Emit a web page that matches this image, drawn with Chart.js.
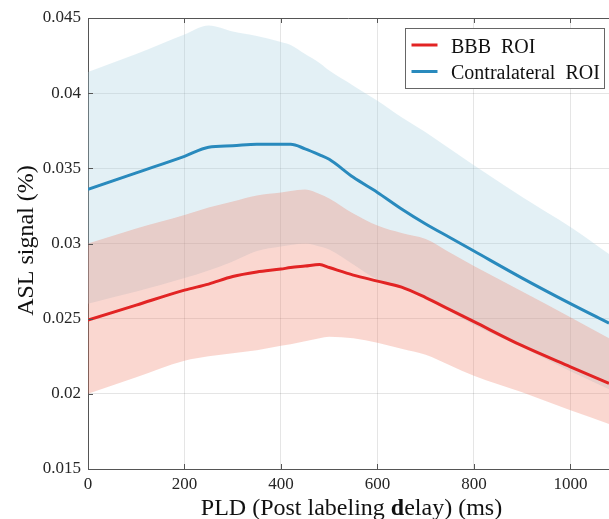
<!DOCTYPE html>
<html>
<head>
<meta charset="utf-8">
<script src="https://cdn.jsdelivr.net/npm/chart.js@4.4.0/dist/chart.umd.min.js"></script>
<style>
  html, body { margin: 0; padding: 0; background: #fff; }
  #wrap { width: 609px; height: 519px; }
</style>
</head>
<body>
<div id="wrap"><canvas id="aslChart" width="609" height="519"></canvas></div>
<script>
// PLD sample points (ms)
const pld = [0, 100, 200, 250, 300, 350, 400, 420, 450, 480, 500, 550, 600, 650, 700, 750, 800, 900, 1000, 1080];

// BBB ROI: mean and band
const bbbMean  = [0.0249, 0.0259, 0.0269, 0.0273, 0.0278, 0.0281, 0.0283, 0.0284, 0.0285, 0.0286, 0.0284, 0.0279, 0.0275, 0.0271, 0.0264, 0.0256, 0.0248, 0.0232, 0.0218, 0.0207];
const bbbUpper = [0.0300, 0.0310, 0.0319, 0.0324, 0.0328, 0.0332, 0.0334, 0.0335, 0.0336, 0.0333, 0.0330, 0.0320, 0.0312, 0.0307, 0.0303, 0.0294, 0.0285, 0.0268, 0.0251, 0.0237];
const bbbLower = [0.0200, 0.0211, 0.0222, 0.0225, 0.0227, 0.0229, 0.0232, 0.0233, 0.0235, 0.0237, 0.0238, 0.0237, 0.0234, 0.0230, 0.0226, 0.0219, 0.0212, 0.0201, 0.0189, 0.0180];

// Contralateral ROI: mean and band
const contraMean  = [0.0336, 0.0347, 0.0358, 0.0364, 0.0365, 0.0366, 0.0366, 0.0366, 0.0363, 0.0359, 0.0356, 0.0344, 0.0334, 0.0323, 0.0313, 0.0304, 0.0295, 0.0277, 0.0260, 0.0247];
const contraUpper = [0.0414, 0.0426, 0.0439, 0.0445, 0.0441, 0.0438, 0.0434, 0.0432, 0.0426, 0.0420, 0.0415, 0.0405, 0.0395, 0.0384, 0.0374, 0.0363, 0.0352, 0.0331, 0.0311, 0.0293];
const contraLower = [0.0260, 0.0268, 0.0277, 0.0282, 0.0288, 0.0295, 0.0298, 0.0299, 0.0300, 0.0298, 0.0296, 0.0286, 0.0276, 0.0270, 0.0264, 0.0255, 0.0246, 0.0231, 0.0215, 0.0203];

// axes
const xTicks = [0, 200, 400, 600, 800, 1000];
const yTicks = [0.015, 0.02, 0.025, 0.03, 0.035, 0.04, 0.045];
const yTickLabels = ['0.015', '0.02', '0.025', '0.03', '0.035', '0.04', '0.045'];
const legendLabels = ['BBB  ROI', 'Contralateral  ROI'];

const RED = 'rgb(226,36,36)';
const BLUE = 'rgb(41,138,189)';
const AXIS = '#555555';

function pts(ys) {
    return pld.map((x, i) => ({ x: x, y: ys[i] }));
}

function band(ys, fill, color) {
    return {
        data: pts(ys),
        borderWidth: 0,
        borderColor: 'rgba(0,0,0,0)',
        pointRadius: 0,
        fill: fill,
        backgroundColor: color,
        cubicInterpolationMode: 'monotone'
    };
}

function meanLine(ys, color) {
    return {
        data: pts(ys),
        borderColor: color,
        borderWidth: 3,
        pointRadius: 0,
        fill: false,
        cubicInterpolationMode: 'monotone'
    };
}

// frame, inward ticks, axis titles and legend
const decorPlugin = {
    id: 'decor',
    afterDraw(chart) {
        const ctx = chart.ctx;
        const a = chart.chartArea;
        const xs = chart.scales.x, ys = chart.scales.y;
        ctx.save();

        // top border + inward ticks
        ctx.strokeStyle = AXIS;
        ctx.lineWidth = 1;
        ctx.beginPath();
        ctx.moveTo(a.left, a.top + 0.5);
        ctx.lineTo(a.right, a.top + 0.5);
        xTicks.forEach(v => {
            const px = Math.round(xs.getPixelForValue(v)) + 0.5;
            ctx.moveTo(px, a.top); ctx.lineTo(px, a.top + 5);
            ctx.moveTo(px, a.bottom); ctx.lineTo(px, a.bottom - 5);
        });
        yTicks.forEach(v => {
            const py = Math.round(ys.getPixelForValue(v)) + 0.5;
            ctx.moveTo(a.left, py); ctx.lineTo(a.left + 5, py);
        });
        ctx.stroke();

        // axis titles
        ctx.fillStyle = '#111';
        ctx.textBaseline = 'alphabetic';
        const f = '24px "Liberation Serif"';
        const fb = 'bold 24px "Liberation Serif"';
        const parts = [['PLD (Post labeling ', f], ['d', fb], ['elay) (ms)', f]];
        let total = 0;
        parts.forEach(p => { ctx.font = p[1]; total += ctx.measureText(p[0]).width; });
        let tx = (a.left + a.right) / 2 + 3 - total / 2;
        ctx.textAlign = 'left';
        parts.forEach(p => {
            ctx.font = p[1];
            ctx.fillText(p[0], tx, a.bottom + 46);
            tx += ctx.measureText(p[0]).width;
        });

        ctx.save();
        ctx.translate(a.left - 55.5, (a.top + a.bottom) / 2 - 3);
        ctx.rotate(-Math.PI / 2);
        ctx.textAlign = 'center';
        ctx.font = f;
        ctx.fillText('ASL signal (%)', 0, 0);
        ctx.restore();

        // legend box
        const bx = a.right - 203.5, by = a.top + 10.5, bw = 199, bh = 60;
        ctx.fillStyle = '#fff';
        ctx.fillRect(bx, by, bw, bh);
        ctx.strokeStyle = '#666';
        ctx.strokeRect(bx, by, bw, bh);
        const colors = [RED, BLUE];
        const rows = [by + 16.5, by + 43];
        ctx.font = '20px "Liberation Serif"';
        ctx.textAlign = 'left';
        legendLabels.forEach((lab, i) => {
            ctx.strokeStyle = colors[i];
            ctx.lineWidth = 3;
            ctx.beginPath();
            ctx.moveTo(bx + 6, rows[i]);
            ctx.lineTo(bx + 32, rows[i]);
            ctx.stroke();
            ctx.fillStyle = '#111';
            ctx.fillText(lab, bx + 45.5, rows[i] + 7.5);
        });
        ctx.restore();
    }
};

function initChart() {
    const ctx = document.getElementById('aslChart').getContext('2d');
    new Chart(ctx, {
        type: 'line',
        data: {
            datasets: [
                { ...meanLine(contraMean, BLUE), order: 1 },
                { ...meanLine(bbbMean, RED), order: 0 },
                { ...band(contraLower, false, 'rgba(0,0,0,0)'), order: 5 },
                { ...band(contraUpper, '-1', 'rgba(162,205,222,0.3)'), order: 4 },
                { ...band(bbbLower, false, 'rgba(0,0,0,0)'), order: 3 },
                { ...band(bbbUpper, '-1', 'rgba(238,122,98,0.3)'), order: 2 }
            ]
        },
        options: {
            responsive: false,
            animation: false,
            parsing: true,
            layout: { padding: { top: 18, right: 0, left: 0, bottom: 0 } },
            plugins: {
                legend: { display: false },
                tooltip: { enabled: false },
                filler: { drawTime: 'beforeDatasetsDraw' }
            },
            scales: {
                x: {
                    type: 'linear',
                    min: 0,
                    max: 1080,
                    afterBuildTicks: s => { s.ticks = xTicks.map(v => ({ value: v })); },
                    afterFit: s => { s.height = 50; },
                    grid: { color: 'rgba(0,0,0,0.1)', drawTicks: false },
                    border: { display: true, color: AXIS, width: 1 },
                    ticks: {
                        padding: 5,
                        color: '#262626',
                        font: { family: 'Liberation Serif', size: 17 },
                        maxRotation: 0,
                        callback: v => String(v)
                    }
                },
                y: {
                    min: 0.015,
                    max: 0.045,
                    afterBuildTicks: s => { s.ticks = yTicks.map(v => ({ value: v })); },
                    afterFit: s => { s.width = 88; },
                    grid: { color: 'rgba(0,0,0,0.1)', drawTicks: false },
                    border: { display: true, color: AXIS, width: 1 },
                    ticks: {
                        padding: 7,
                        color: '#262626',
                        font: { family: 'Liberation Serif', size: 17 },
                        callback: (v, i) => yTickLabels[i]
                    }
                }
            }
        },
        plugins: [decorPlugin]
    });
}

window.onload = () => {
    initChart();
};
</script>
</body>
</html>
